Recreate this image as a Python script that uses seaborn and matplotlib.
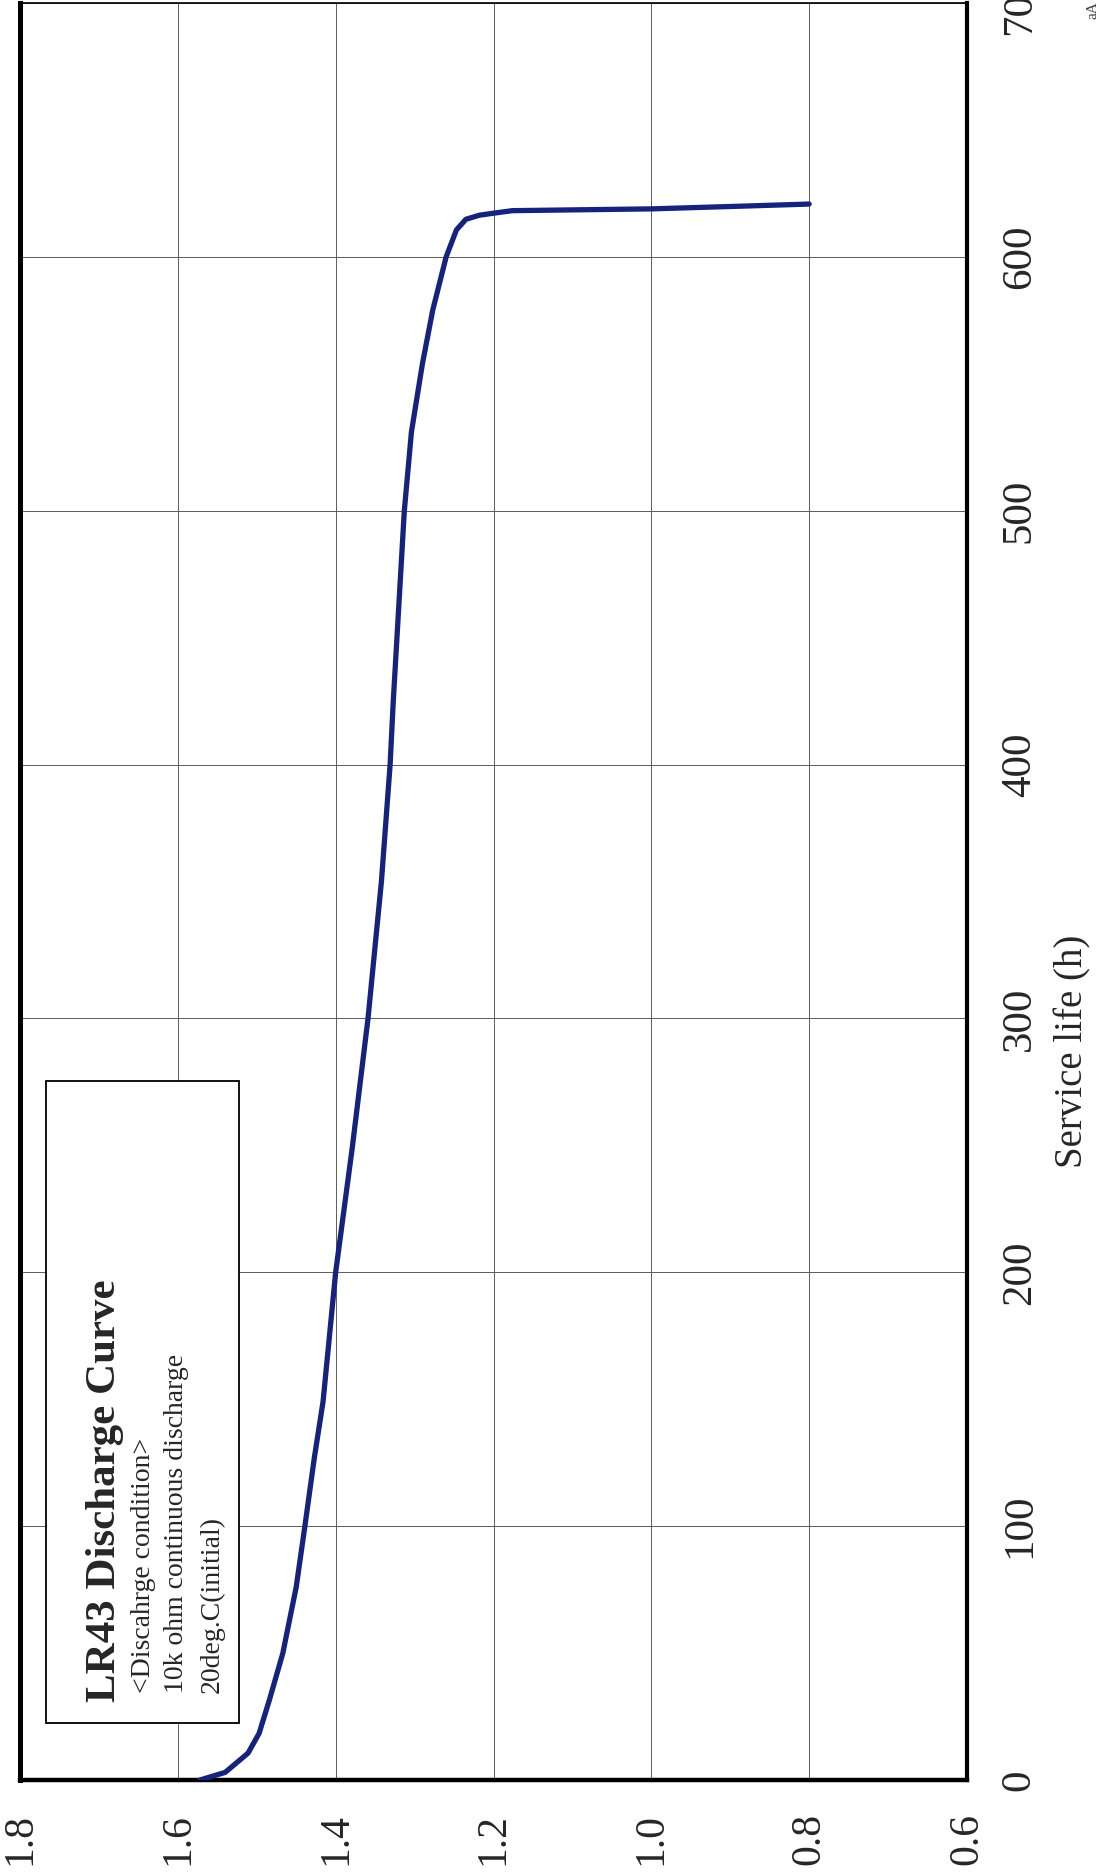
import matplotlib
matplotlib.use("Agg")
import matplotlib.pyplot as plt
import seaborn as sns
from matplotlib.patches import Rectangle

hours = [0, 3, 10.6, 18.4, 31.5, 49.9, 76, 100, 127, 149, 200, 249, 300, 354,
         400, 425, 500, 531, 558, 579, 600, 610.6, 614.8, 616.4, 617.2, 618.2,
         618.9, 619.9, 620.8]
voltage = [1.572, 1.540, 1.511, 1.497, 1.484, 1.467, 1.450, 1.439, 1.427, 1.416,
           1.400, 1.379, 1.359, 1.342, 1.331, 1.327, 1.313, 1.304, 1.290, 1.277,
           1.260, 1.247, 1.235, 1.218, 1.200, 1.176, 1.000, 0.893, 0.800]

volt_ticks = [1.8, 1.6, 1.4, 1.2, 1.0, 0.8, 0.6]
volt_labels = ["1.8", "1.6", "1.4", "1.2", "1.0", "0.8", "0.6"]
hour_ticks = [0, 100, 200, 300, 400, 500, 600, 700]
hour_labels = ["0", "100", "200", "300", "400", "500", "600", "700"]

title = "LR43 Discharge Curve"
cond_lines = ["<Discahrge condition>", "10k ohm continuous discharge", "20deg.C(initial)"]

sns.set_style("white")
plt.rcParams["font.family"] = ["Liberation Serif", "DejaVu Serif"]

W, H = 1101, 1872
fig = plt.figure(figsize=(W / 100, H / 100), dpi=100)


def fx(px):
    return px / W


def fy(py):
    return 1 - py / H


# axes box in pixels: left 20, right 967, top 3, bottom 1780
ax = fig.add_axes([fx(20), fy(1780), (967 - 20) / W, (1780 - 3) / H])

sns.lineplot(x=voltage, y=hours, sort=False, estimator=None, color="#16237c",
             lw=3.8, ax=ax, zorder=5, solid_capstyle="round")

ax.set_xlim(1.8, 0.6)
ax.set_ylim(0, 700)

ax.set_xticks(volt_ticks)
ax.set_xticklabels(volt_labels, rotation=90, fontsize=30)
ax.yaxis.tick_right()
ax.set_yticks(hour_ticks)
ax.set_yticklabels(hour_labels, rotation=90, va="center", fontsize=31)
ax.tick_params(axis="x", length=0, pad=24)
ax.tick_params(axis="y", length=0, pad=24)

ax.set_xlabel("")
ax.yaxis.set_label_position("right")
ax.set_ylabel("Service life (h)", fontsize=28, rotation=90)
ax.yaxis.set_label_coords((1054 - 20) / 947, 0.41)

ax.set_axisbelow(True)
ax.grid(True, color="#5c5c5c", lw=0.7)

for side, lw in {"left": 3.6, "bottom": 3.2, "right": 3.0, "top": 1.2}.items():
    ax.spines[side].set_color("black")
    ax.spines[side].set_linewidth(lw)

# annotation box
bx0, bx1 = (46 - 20) / 947, (239 - 20) / 947
by0, by1 = (1780 - 1723) / 1777, (1780 - 1081) / 1777
ax.add_patch(Rectangle((bx0, by0), bx1 - bx0, by1 - by0, transform=ax.transAxes,
                       facecolor="white", edgecolor="black", lw=1.3, zorder=3))

fig.text(fx(105), fy(1702), title, rotation=90, fontsize=31, fontweight="bold",
         ha="center", va="bottom")
for xc, line in zip([143, 177, 212], cond_lines):
    fig.text(fx(xc), fy(1693), line, rotation=90, fontsize=20,
             ha="center", va="bottom")

fig.text(fx(1093), fy(10), "aA", rotation=90, fontsize=11, ha="center",
         va="center", color="#444444")

fig.savefig("out.png", dpi=100)
